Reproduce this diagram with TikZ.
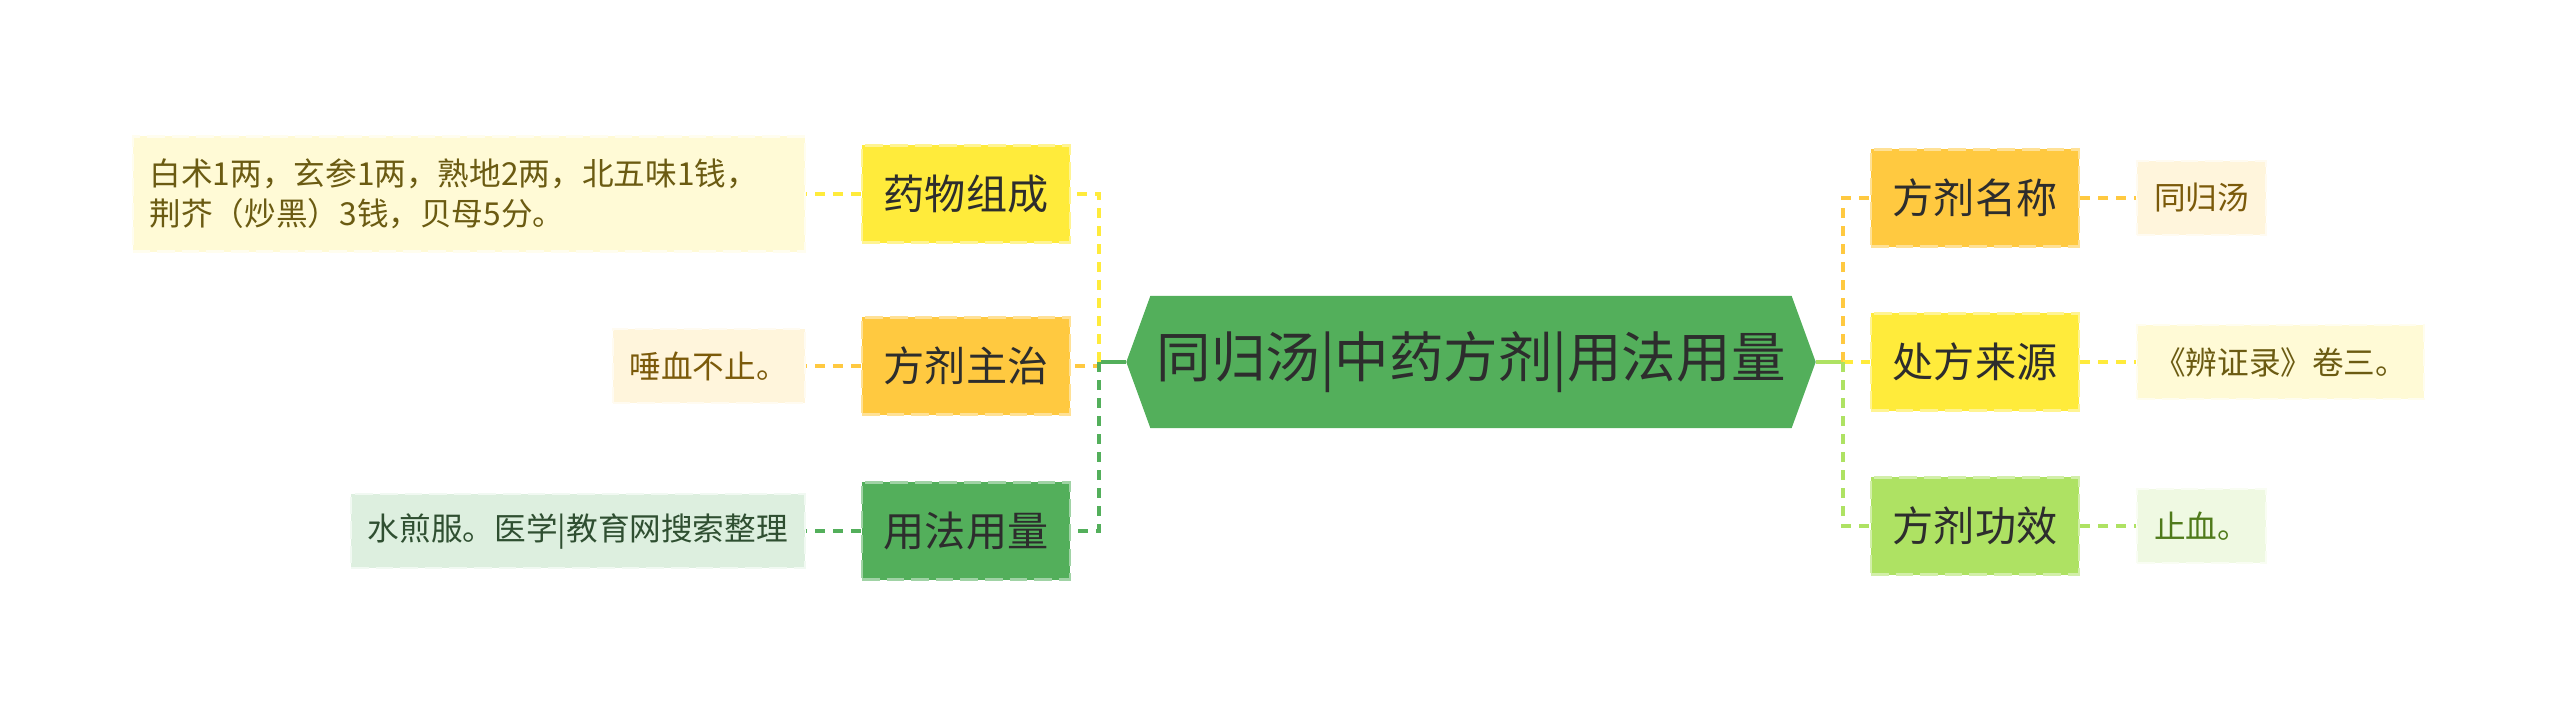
\documentclass[tikz,border=0pt]{standalone}
\usepackage{fontspec}
\newfontfamily\cjk{Noto Sans CJK SC}
\usetikzlibrary{shapes.symbols}
\definecolor{rootgreen}{HTML}{53AF5B}
\definecolor{cyellow}{HTML}{FFEB3B}
\definecolor{corange}{HTML}{FFC940}
\definecolor{clgreen}{HTML}{AEE263}
\definecolor{lfyel}{HTML}{FFFAD6}
\definecolor{lforange}{HTML}{FFF5DC}
\definecolor{lfgreen}{HTML}{DDEFDF}
\definecolor{lflgreen}{HTML}{EFF9E2}
\definecolor{darktext}{HTML}{2D2D2D}
\definecolor{txolive}{HTML}{6B5B12}
\definecolor{txbrown}{HTML}{7B5A0A}
\definecolor{txgreen}{HTML}{2F4F31}
\definecolor{txlgreen}{HTML}{4F7A1A}
\tikzset{root/.style={signal,signal to=east and west,signal pointer angle=140,fill=rootgreen,minimum width=6.89cm,minimum height=1.32cm,inner sep=0pt,text=darktext,font=\cjk\fontsize{15.5}{18}\selectfont},topic/.style={fill=#1,draw=#1!55!white,dash pattern=on 5pt off 2pt,line width=0.6pt,minimum width=2.08cm,minimum height=0.97cm,inner sep=0pt,text=darktext,font=\cjk\fontsize{11.7}{14}\selectfont},leaf/.style 2 args={fill=#1,draw=white!60!#1,dash pattern=on 5pt off 2pt,line width=0.6pt,text=#2,inner xsep=0.17cm,inner ysep=0pt,minimum height=0.74cm,font=\cjk\fontsize{9}{11.4}\selectfont},link/.style={line width=1.1pt,dash pattern=on 0.1cm off 0.08cm},stub/.style={line width=1.1pt}}
\begin{document}
\begin{tikzpicture}[x=0.01cm,y=-0.01cm]
\useasboundingbox (0,0) rectangle (2560,715);
\node[root] (root) at (1471,362) {同归汤|中药方剂|用法用量};
\node[topic=cyellow] (zc) at (966,194) {药物组成};
\node[topic=corange] (zz) at (966,366) {方剂主治};
\node[topic=rootgreen] (yl) at (966,531) {用法用量};
\node[topic=corange] (mc) at (1975,198) {方剂名称};
\node[topic=cyellow] (ly) at (1975,362) {处方来源};
\node[topic=clgreen] (gx) at (1975,526) {方剂功效};
\node[leaf={lfyel}{txolive},anchor=east,text width=6.38cm,align=left,minimum height=1.15cm] (zcl) at (806,194) {白术1两，玄参1两，熟地2两，北五味1钱，\\荆芥（炒黑）3钱，贝母5分。};
\node[leaf={lforange}{txbrown},anchor=east] (zzl) at (806,366) {唾血不止。};
\node[leaf={lfgreen}{txgreen},anchor=east] (yll) at (806,531) {水煎服。医学|教育网搜索整理};
\node[leaf={lforange}{txbrown},anchor=west] (mcl) at (2136,198) {同归汤};
\node[leaf={lfyel}{txolive},anchor=west] (lyl) at (2136,362) {《辨证录》卷三。};
\node[leaf={lflgreen}{txlgreen},anchor=west] (gxl) at (2136,526) {止血。};
\coordinate (lj) at (1099,362);\coordinate (rj) at (1843,362);
\draw[stub,rootgreen](root.west)--(lj);\draw[stub,clgreen](root.east)--(rj);
\draw[link,cyellow](lj)|-(zc.east);\draw[link,corange](lj)|-(zz.east);\draw[link,rootgreen](lj)|-(yl.east);
\draw[link,corange](rj)|-(mc.west);\draw[link,cyellow](rj)|-(ly.west);\draw[link,clgreen](rj)|-(gx.west);
\draw[link,cyellow](zc)--(zcl);\draw[link,corange](zz)--(zzl);\draw[link,rootgreen](yl)--(yll);
\draw[link,corange](mc)--(mcl);\draw[link,cyellow](ly)--(lyl);\draw[link,clgreen](gx)--(gxl);
\end{tikzpicture}
\end{document}
